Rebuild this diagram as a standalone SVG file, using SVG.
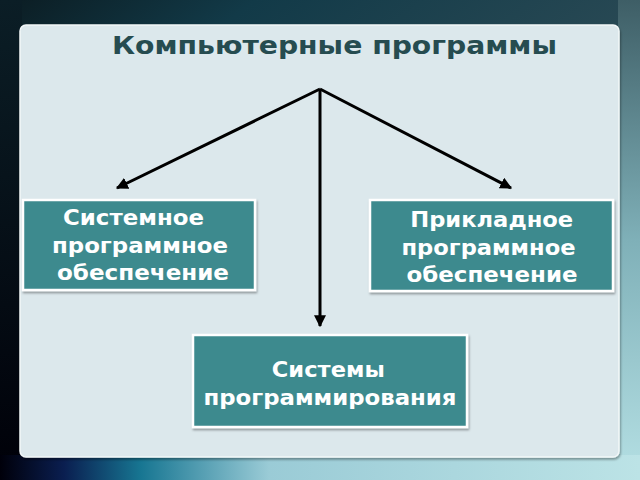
<svg xmlns="http://www.w3.org/2000/svg" width="640" height="480" viewBox="0 0 640 480">
<defs>
<linearGradient id="bgTop" x1="0" y1="0" x2="1" y2="1">
<stop offset="0" stop-color="#0b1c22"/>
<stop offset="0.2" stop-color="#123a48"/>
<stop offset="0.55" stop-color="#2a4a55"/>
<stop offset="1" stop-color="#9ccdd4"/>
</linearGradient>
<linearGradient id="bgBottom" x1="0" y1="0" x2="1" y2="0">
<stop offset="0" stop-color="#00000a"/>
<stop offset="0.1" stop-color="#0a1e50"/>
<stop offset="0.22" stop-color="#177692"/>
<stop offset="0.42" stop-color="#9acbd6"/>
<stop offset="1" stop-color="#bce3e6"/>
</linearGradient>
<linearGradient id="bgRight" x1="0" y1="0" x2="0" y2="1">
<stop offset="0" stop-color="#3e5e66"/>
<stop offset="0.5" stop-color="#7fb0b8"/>
<stop offset="1" stop-color="#b5e0e4"/>
</linearGradient>
<linearGradient id="bgLeft" x1="0" y1="0" x2="0" y2="1">
<stop offset="0" stop-color="#0b1e26"/>
<stop offset="1" stop-color="#000008"/>
</linearGradient>
<filter id="sh" x="-10%" y="-10%" width="120%" height="130%">
<feDropShadow dx="1" dy="2" stdDeviation="1.2" flood-color="#000" flood-opacity="0.35"/>
</filter>
<marker id="ah" viewBox="0 0 10 10" refX="9" refY="5" markerWidth="4" markerHeight="4" orient="auto" markerUnits="strokeWidth">
<path d="M0,0 L10,5 L0,10 z" fill="#000"/>
</marker>
</defs>
<style>
.box{fill:#3e8a8e;stroke:#ffffff;stroke-width:2.5}
.lbl{font-family:"DejaVu Sans",sans-serif;font-weight:bold;font-size:21px;fill:#ffffff;text-anchor:middle}
.ttl{font-family:"DejaVu Sans",sans-serif;font-weight:bold;font-size:25px;fill:#264c50;text-anchor:middle}
.con{stroke:#000;stroke-width:3;fill:none}
</style>
<rect x="0" y="0" width="640" height="480" fill="url(#bgTop)"/>
<rect x="0" y="0" width="22" height="480" fill="url(#bgLeft)"/>
<rect x="618" y="0" width="22" height="480" fill="url(#bgRight)"/>
<rect x="0" y="455" width="640" height="25" fill="url(#bgBottom)"/>
<rect x="20" y="25" width="599" height="432" rx="6" fill="#dce8ec" stroke="#f2f7f8" stroke-width="1.5" filter="url(#sh)"/>
<text class="ttl" x="334.5" y="54" textLength="445" lengthAdjust="spacingAndGlyphs">Компьютерные программы</text>
<g id="connectors">
<line class="con" x1="320" y1="89" x2="117" y2="188" marker-end="url(#ah)"/>
<line class="con" x1="320" y1="89" x2="511" y2="188" marker-end="url(#ah)"/>
<line class="con" x1="320" y1="89" x2="320" y2="326" marker-end="url(#ah)"/>
</g>
<g id="node-system">
<rect class="box" x="23" y="200" width="232" height="90" filter="url(#sh)"/>
<text class="lbl" x="133.5" y="225" textLength="141" lengthAdjust="spacingAndGlyphs">Системное</text>
<text class="lbl" x="140" y="253" textLength="176" lengthAdjust="spacingAndGlyphs">программное</text>
<text class="lbl" x="143" y="280" textLength="172" lengthAdjust="spacingAndGlyphs">обеспечение</text>
</g>
<g id="node-applied">
<rect class="box" x="370" y="200" width="243" height="91" filter="url(#sh)"/>
<text class="lbl" x="491.7" y="227" textLength="163" lengthAdjust="spacingAndGlyphs">Прикладное</text>
<text class="lbl" x="488.5" y="255" textLength="174" lengthAdjust="spacingAndGlyphs">программное</text>
<text class="lbl" x="492" y="282" textLength="171" lengthAdjust="spacingAndGlyphs">обеспечение</text>
</g>
<g id="node-prog">
<rect class="box" x="193" y="335" width="274" height="92" filter="url(#sh)"/>
<text class="lbl" x="328.3" y="377" textLength="113" lengthAdjust="spacingAndGlyphs">Системы</text>
<text class="lbl" x="330" y="405" textLength="253" lengthAdjust="spacingAndGlyphs">программирования</text>
</g>
</svg>
